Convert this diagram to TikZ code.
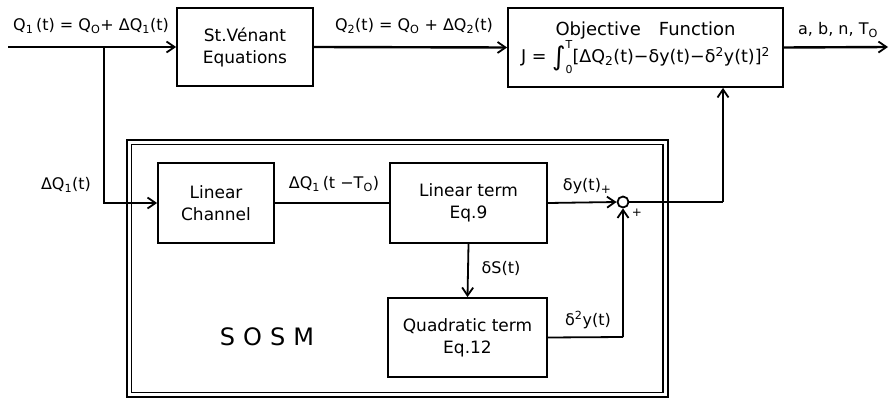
\documentclass[tikz,border=0pt]{standalone}
\usepackage{fontspec}
\setmainfont{DejaVu Sans}
\usetikzlibrary{arrows.meta}
\tikzset{
  blk/.style={draw, line width=1.8pt, align=center, inner sep=0pt, font=\fontsize{17}{22}\selectfont},
  conn/.style={line width=1.8pt},
  arr/.style={line width=1.8pt, -{Straight Barb[length=8pt,width=11pt,line width=1.8pt]}},
  lbl/.style={inner sep=1pt, font=\fontsize{16}{19}\selectfont},
}
\newcommand{\sub}[1]{\textsubscript{#1}}
\newcommand{\sps}[1]{\textsuperscript{#1}}
\begin{document}
\begin{tikzpicture}[x=1pt,y=-1pt]
\useasboundingbox (0,0) rectangle (893,398);
% SOSM frame
\draw[line width=1.2pt] (127,140) rectangle (668,397);
\draw[line width=1.2pt] (131.5,144.5) rectangle (663,392.5);
% blocks
\node[blk, minimum width=136pt, minimum height=78pt] (sv) at (245,47) {St.Vénant\\Equations};
\node[blk, minimum width=275pt, minimum height=79pt] (obj) at (645.5,47.5)
  {\fontsize{18}{20}\selectfont Objective\quad Function\\[0pt]
   \fontsize{17.5}{22}\selectfont J = \raisebox{-0.35ex}{\fontsize{26}{26}\selectfont ∫}\rlap{\raisebox{1.5ex}{\fontsize{11}{11}\selectfont T}}\raisebox{-1.1ex}{\fontsize{11}{11}\selectfont 0}[ΔQ\sub{2}(t)−δy(t)−δ\sps{2}y(t)]\sps{2}};
\node[blk, minimum width=116pt, minimum height=80pt] (lc) at (216,203) {Linear\\Channel};
\node[blk, minimum width=157pt, minimum height=80pt] (lt) at (468.5,203) {Linear term\\Eq.9};
\node[blk, minimum width=159pt, minimum height=79pt] (qt) at (467.5,337.5) {Quadratic term\\Eq.12};
\node[draw, circle, line width=1.8pt, minimum size=11pt, inner sep=0pt] (sum) at (623,202) {};
% coordinates
\coordinate (in) at (8,47);
\coordinate (j1) at (104,47);
\coordinate (out) at (888,47);
\coordinate (c1) at (723,202);
\coordinate (c2) at (623,337);
% connectors
\draw[arr, line width=2.4pt] (in) -- (sv.west);
\draw[arr] (j1) |- (lc.west);
\draw[arr, line width=2.4pt] (sv.east) -- (obj.west);
\draw[arr, line width=2.4pt] (obj.east) -- (out);
\draw[conn] (lc.east) -- (lt.west);
\draw[arr] (lt.east) -- (sum.west);
\draw[arr] (lt.south) -- (qt.north);
\draw[conn] (qt.east) -- (c2);
\draw[arr] (c2) -- (sum.south);
\draw[conn] (sum.east) -- (c1);
\draw[arr] (c1) -- (c1 |- obj.south);
% labels
\node[lbl] (lq1) at (91,26) {Q\sub{1}\,(t) = Q\sub{O}+ ΔQ\sub{1}(t)};
\node[lbl] (lq2) at (414,26) {Q\sub{2}(t) = Q\sub{O} + ΔQ\sub{2}(t)};
\node[lbl] (lout) at (838,30) {a, b, n, T\sub{O}};
\node[lbl] (ldq) at (66,185) {ΔQ\sub{1}(t)};
\node[lbl] (ldel) at (334,184) {ΔQ\sub{1}\,(t −T\sub{O})};
\node[lbl] (ldy) at (587,186) {δy(t)\raisebox{-0.3ex}{\fontsize{12}{12}\selectfont +}};
\node[lbl, font=\fontsize{12}{12}\selectfont] (lpl) at (637,213) {+};
\node[lbl] (lds) at (501,268) {δS(t)};
\node[lbl] (ld2) at (588,320) {δ\sps{2}y(t)};
\node[lbl, font=\fontsize{24}{28}\selectfont] (lsosm) at (267,337) {S\,\,O\,\,S\,\,M};
\end{tikzpicture}
\end{document}
